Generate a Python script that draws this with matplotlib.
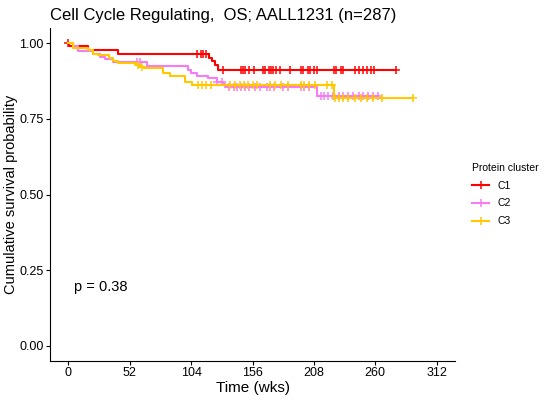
import numpy as np
import matplotlib
matplotlib.use("Agg")
import matplotlib.pyplot as plt

plt.rcParams["font.family"] = ["Liberation Sans", "DejaVu Sans"]

# Kaplan-Meier step data (time in weeks, survival after the step)
c1_times = [0, 0.5, 17, 42, 119, 122, 124.5, 127, 278]
c1_surv = [1.0, 0.99, 0.977, 0.963, 0.95, 0.94, 0.927, 0.912, 0.912]
c1_censor = [0, 109, 112, 114, 117, 131, 146, 148, 150, 153, 157, 165, 167,
             170, 172, 173, 176, 179, 188, 197, 199, 203, 205, 208, 211, 225,
             227, 231, 233, 243, 246, 250, 253, 256, 259, 278]

c2_times = [0, 4, 8.5, 21, 27, 31, 38, 67, 101, 104, 109, 118, 126, 131, 133, 211, 262]
c2_surv = [1.0, 0.99, 0.975, 0.963, 0.955, 0.946, 0.937, 0.925, 0.912, 0.90,
           0.89, 0.884, 0.873, 0.865, 0.856, 0.826, 0.826]
c2_censor = [58, 61, 126, 130, 136, 140, 143, 146, 150, 153, 158, 162, 168,
             171, 174, 182, 186, 197, 200, 204, 214, 217, 220, 224, 229, 233,
             237, 241, 246, 250, 254, 258, 262]

c3_times = [0, 3.5, 17, 21, 25, 34, 38, 42, 57, 61, 64, 80, 86, 99, 105, 225, 292]
c3_surv = [1.0, 0.985, 0.976, 0.965, 0.96, 0.95, 0.94, 0.934, 0.928, 0.922,
           0.917, 0.90, 0.89, 0.873, 0.861, 0.82, 0.82]
c3_censor = [59, 62, 110, 113, 117, 121, 137, 141, 145, 149, 152, 156, 160,
             171, 175, 180, 186, 197, 200, 204, 209, 219, 223, 226, 229, 233,
             237, 243, 248, 253, 258, 266, 292]

groups = ["C1", "C2", "C3"]
colors = ["#FF0000", "#F57CF5", "#FFC800"]
pval_text = "p = 0.38"
xticks = [0, 52, 104, 156, 208, 260, 312]
yticks = [0.0, 0.25, 0.5, 0.75, 1.0]

fig = plt.figure(figsize=(5.5, 4), dpi=100)
ax = fig.add_axes([0.0909, 0.0975, 0.7364, 0.8325])

series = [(c1_times, c1_surv, c1_censor),
          (c2_times, c2_surv, c2_censor),
          (c3_times, c3_surv, c3_censor)]

for (t, s, cens), name, col in zip(series, groups, colors):
    t = np.array(t)
    s = np.array(s)
    ax.step(t, s, where="post", color=col, lw=1.5)
    # survival at censor times
    idx = np.searchsorted(t, cens, side="right") - 1
    ax.plot(cens, s[idx], ls="none", marker="+", ms=6, mew=1.1, color=col)
    # legend proxy
    ax.plot([], [], color=col, lw=1.5, marker="+", ms=6, mew=1.1, label=name)

ax.text(5, 0.195, pval_text, fontsize=10.5, ha="left", va="center")

ax.set_xlim(-15.6, 327.6)
ax.set_ylim(-0.05, 1.05)
ax.set_xticks(xticks)
ax.set_yticks(yticks)
ax.set_yticklabels([f"{v:.2f}" for v in yticks])
ax.tick_params(labelsize=9, colors="black", length=3, pad=1.5)
ax.spines["top"].set_visible(False)
ax.spines["right"].set_visible(False)
ax.set_xlabel("Time (wks)", fontsize=11, labelpad=1)
ax.set_ylabel("Cumulative survival probability", fontsize=10.5, labelpad=1)
ax.set_title("Cell Cycle Regulating,  OS; AALL1231 (n=287)", fontsize=12,
             loc="left", x=0.0, pad=6)

leg = ax.legend(title="Protein cluster", loc="center left",
                bbox_to_anchor=(1.02, 0.5), frameon=False, fontsize=7.5,
                title_fontsize=7.5, handlelength=1.6, labelspacing=0.75)
leg._legend_box.align = "left"

fig.savefig("out.png", dpi=100)
